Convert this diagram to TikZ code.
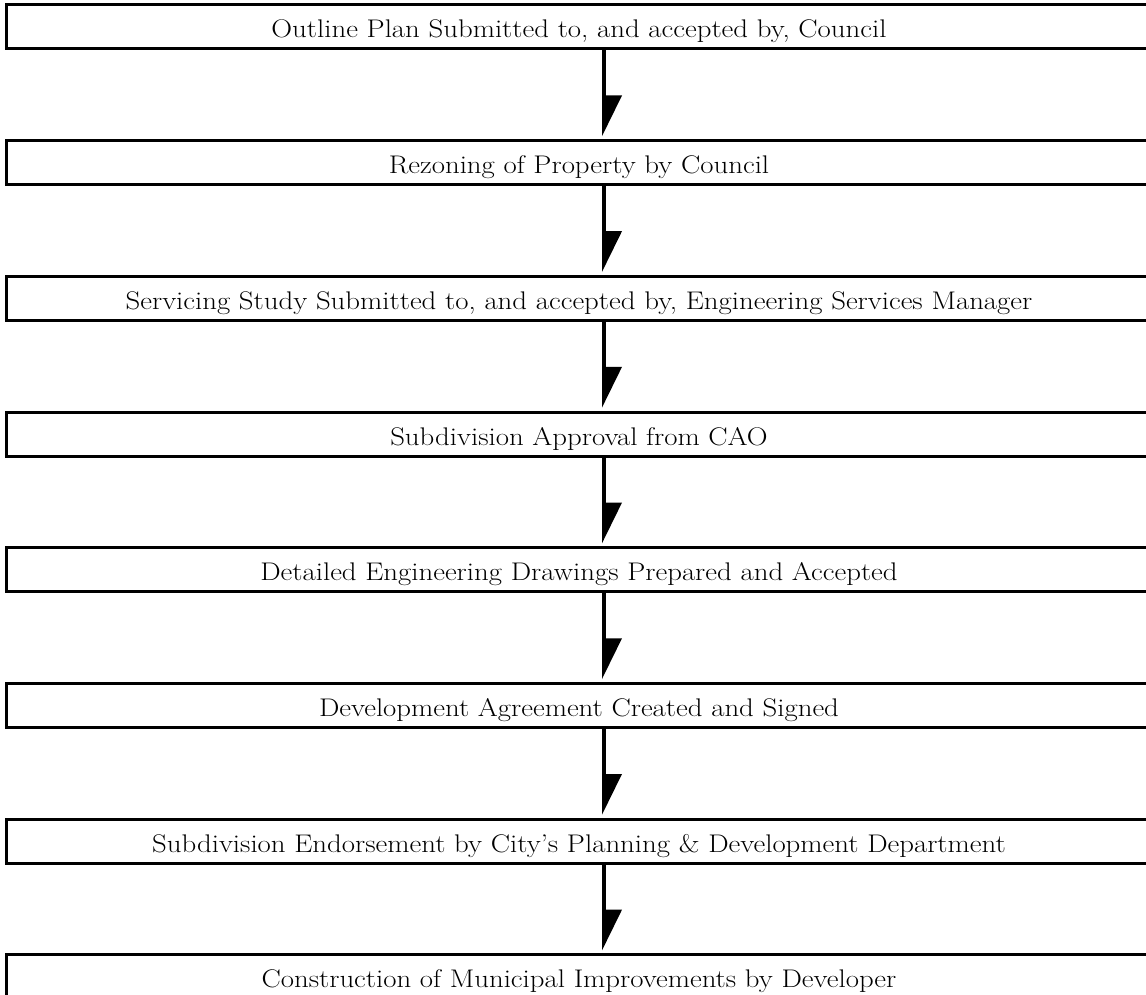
\documentclass[tikz,border=0pt]{standalone}
\usepackage{fontspec}
\setmainfont[FakeStretch=1.13]{Latin Modern Roman}
\begin{document}
\begin{tikzpicture}[x=1pt,y=1pt,
  stepbox/.style={draw=black, line width=3pt, rectangle, minimum width=1146pt, minimum height=44pt,
    inner xsep=0pt, inner ysep=0pt, text height=22pt, text depth=0pt,
    font=\fontsize{25.5}{30}\selectfont, text=black},
  shaft/.style={line width=4pt, black},
  head/.style={fill=black}]
\useasboundingbox (0,0) rectangle (1146,-995);
\node[stepbox] (b1) at (579,-27) {Outline Plan Submitted to, and accepted by, Council};
\node[stepbox] (b2) at (579,-162.7) {Rezoning of Property by Council};
\node[stepbox] (b3) at (579,-298.4) {Servicing Study Submitted to, and accepted by, Engineering Services Manager};
\node[stepbox] (b4) at (579,-434.1) {Subdivision Approval from CAO};
\node[stepbox] (b5) at (579,-569.8) {Detailed Engineering Drawings Prepared and Accepted};
\node[stepbox] (b6) at (579,-705.5) {Development Agreement Created and Signed};
\node[stepbox] (b7) at (579,-841.2) {Subdivision Endorsement by City's Planning \& Development Department};
\node[stepbox] (b8) at (579,-976.9) {Construction of Municipal Improvements by Developer};
\foreach \a/\b in {b1/b2,b2/b3,b3/b4,b4/b5,b5/b6,b6/b7,b7/b8}{
  \draw[shaft] ([xshift=25pt]\a.south) -- ([xshift=25pt,yshift=-47pt]\a.south);
  \fill[head] ([xshift=23pt,yshift=-45pt]\a.south) -- ([xshift=43pt,yshift=-45pt]\a.south) -- ([xshift=23pt,yshift=3pt]\b.north) -- cycle;
}
\end{tikzpicture}
\end{document}
